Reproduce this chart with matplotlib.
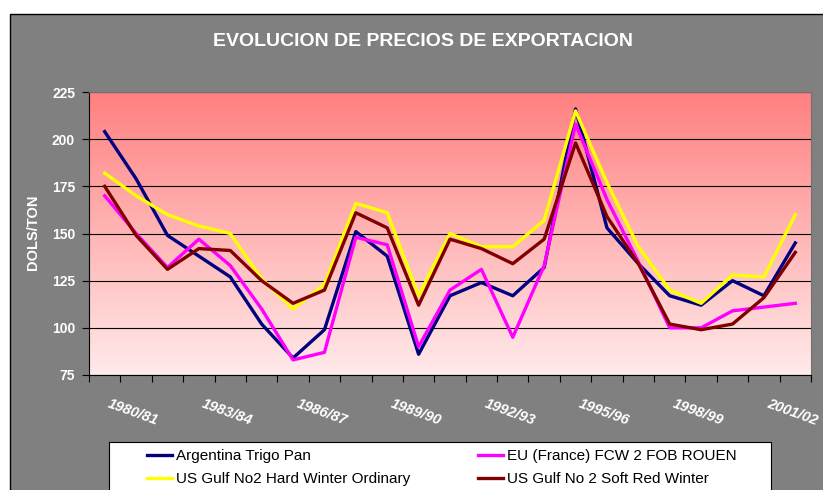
import numpy as np
import matplotlib
matplotlib.use("Agg")
import matplotlib.pyplot as plt
import matplotlib.transforms as mtransforms
from matplotlib.patches import Rectangle

plt.rcParams['font.family'] = ['Liberation Sans', 'DejaVu Sans']

# campañas 1980/81 .. 2002/03
seasons = [f"{y}/{str(y + 1)[-2:]}" for y in range(1980, 2003)]
tick_every = 3

argentina = [204, 179, 149, 138, 127, 102, 84, 99, 151, 138, 86, 117,
             124, 117, 132, 216, 153, 134, 117, 112, 125, 117, 145]
eu_france = [170, 150, 132, 147, 133, 110, 83, 87, 148, 144, 90, 120,
             131, 95, 133, 208, 168, 135, 100, 100, 109, 111, 113]
us_hrw = [182, 170, 160, 154, 150, 126, 110, 123, 166, 161, 117, 150,
          143, 143, 157, 215, 177, 143, 120, 113, 128, 127, 160]
us_srw = [175, 149, 131, 142, 141, 125, 113, 120, 161, 153, 112, 147,
          142, 134, 147, 198, 159, 134, 102, 99, 102, 116, 140]

series = [
    ("Argentina Trigo Pan", argentina, "#000080"),
    ("EU (France) FCW 2 FOB ROUEN", eu_france, "#FF00FF"),
    ("US Gulf No2 Hard Winter Ordinary", us_hrw, "#FFFF00"),
    ("US Gulf No 2 Soft Red Winter", us_srw, "#800000"),
]

W, H = 823, 490
fig = plt.figure(figsize=(W / 100, H / 100), dpi=100, facecolor="white")


def fx(px):
    return px / W


def fy(py):
    return 1 - py / H


# marco gris del grafico
fig.patches.append(Rectangle((fx(10), fy(500)), fx(830) - fx(10), fy(14) - fy(500),
                             transform=fig.transFigure, facecolor="#808080",
                             edgecolor="black", lw=1, zorder=-2))

ax = fig.add_axes([fx(89), fy(375), fx(811) - fx(89), fy(92) - fy(375)])
n = len(seasons)
x = np.arange(n)

# fondo degradado
top = np.array([255, 128, 128]) / 255
bot = np.array([255, 234, 234]) / 255
t = np.linspace(0, 1, 256)[:, None]
grad = (top * (1 - t) + bot * t)[:, None, :]
ax.imshow(grad, extent=[-0.5, n - 0.5, 75, 225], aspect="auto", zorder=-10,
          interpolation="bilinear")

for name, vals, col in series:
    ax.plot(x, vals, color=col, lw=2.4, label=name)

ax.set_xlim(-0.5, n - 0.5)
ax.set_ylim(75, 225)
ax.set_yticks(np.arange(75, 226, 25))
ax.yaxis.grid(True, color="black", lw=0.8)
ax.set_axisbelow(True)
ax.set_xticks(np.arange(-0.5, n, 1))
ax.set_xticklabels([])
ax.tick_params(axis="both", direction="out", length=5, color="black", width=0.8)
ax.tick_params(axis="y", labelcolor="white", labelsize=10, pad=5)
for lab in ax.get_yticklabels():
    lab.set_fontweight("bold")
for s in ["left", "bottom"]:
    ax.spines[s].set_color("black")
for s in ["top", "right"]:
    ax.spines[s].set_color("#707070")

# etiquetas de campaña inclinadas
trans = mtransforms.offset_copy(ax.get_xaxis_transform(), fig=fig, x=6, y=-22, units="dots")
for i in range(0, n, tick_every):
    ax.text(i, 0, seasons[i], transform=trans, rotation=-20, rotation_mode="anchor",
            ha="left", va="top", color="white", fontsize=10.5, fontweight="bold",
            fontstyle="italic", clip_on=False)

fig.text(fx(33), fy(232), "DOLS/TON", rotation=90, color="white", fontsize=10.5,
         fontweight="bold", ha="center", va="center")

fig.text(fx(423), fy(41), "EVOLUCION DE PRECIOS DE EXPORTACION", color="white",
         fontsize=14, fontweight="bold", ha="center", va="center")

# leyenda
fig.patches.append(Rectangle((fx(109), fy(500)), fx(771) - fx(109), fy(442) - fy(500),
                             transform=fig.transFigure, facecolor="white",
                             edgecolor="black", lw=0.8, zorder=1))
lines = ax.get_lines()
for idx, xpx in [(0, 147), (1, 478)]:
    hs = [lines[idx], lines[idx + 2]]
    fig.legend(hs, [h.get_label() for h in hs], loc="upper left",
               bbox_to_anchor=(fx(xpx), fy(449)), frameon=False, fontsize=11,
               borderpad=0, borderaxespad=0, handlelength=1.65, handletextpad=0.25,
               labelspacing=0.6)

fig.savefig("out.png", dpi=100, facecolor="white")
